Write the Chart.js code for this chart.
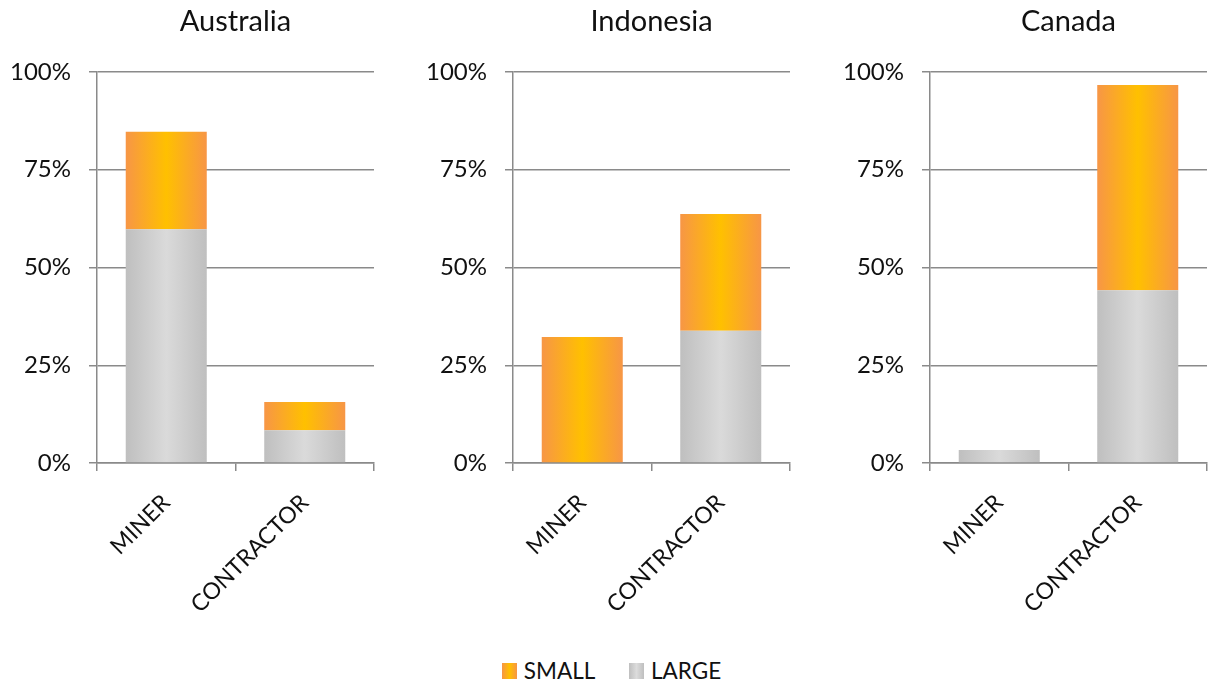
<!DOCTYPE html>
<html>
<head>
<meta charset="utf-8">
<script src="https://cdn.jsdelivr.net/npm/chart.js@4"></script>
<style>
  body { margin: 0; background: #fff; width: 1211px; height: 679px; position: relative; overflow: hidden; font-family: Lato, sans-serif; }
  .panel { position: absolute; top: 0; width: 400px; height: 630px; }
  #legend { position: absolute; top: 655px; left: 6px; width: 1211px; text-align: center; font-size: 22.5px; line-height: 23px; color: #111; }
  #legend span { display: inline-block; vertical-align: middle; }
  .sw { width: 15px; height: 16px; margin-right: 7px; }
  .item { margin: 0 14px; }
</style>
</head>
<body>
<div class="panel" style="left:0"><canvas id="c0" width="400" height="630"></canvas></div>
<div class="panel" style="left:416px"><canvas id="c1" width="400" height="630"></canvas></div>
<div class="panel" style="left:833px"><canvas id="c2" width="400" height="630"></canvas></div>
<div id="legend">
  <span class="item"><span class="sw" style="background:linear-gradient(90deg,#f79646,#ffc000,#f79646)"></span><span>SMALL</span></span>
  <span class="item"><span class="sw" style="background:linear-gradient(90deg,#bfbfbf,#dcdcdc,#bfbfbf)"></span><span>LARGE</span></span>
</div>
<script>
// data (percent)
const categories = ['MINER', 'CONTRACTOR'];
const countries = ['Australia', 'Indonesia', 'Canada'];
const largeAustralia = [59.8, 8.4];
const smallAustralia = [24.9, 7.2];
const largeIndonesia = [0, 33.8];
const smallIndonesia = [32.2, 29.9];
const largeCanada = [3.3, 44.2];
const smallCanada = [0, 52.5];
const yTicks = [0, 25, 50, 75, 100];

const largeSets = [largeAustralia, largeIndonesia, largeCanada];
const smallSets = [smallAustralia, smallIndonesia, smallCanada];

const barPct = 0.585;

// horizontal gradient across each bar, worked out from the x scale
const barGradient = (edge, mid) => (ctx) => {
    const chart = ctx.chart;
    const x = chart.scales.x;
    if (!x || ctx.dataIndex === undefined) return mid;
    const cx = x.getPixelForValue(ctx.dataIndex);
    const half = (x.width / categories.length) * barPct / 2;
    if (!isFinite(cx) || !isFinite(half) || half <= 0) return mid;
    const g = chart.ctx.createLinearGradient(cx - half, 0, cx + half, 0);
    g.addColorStop(0, edge);
    g.addColorStop(0.5, mid);
    g.addColorStop(1, edge);
    return g;
};

const gridColor = '#8a8a8a';

const makeChart = (i) => {
    new Chart(document.getElementById('c' + i), {
        type: 'bar',
        data: {
            labels: categories,
            datasets: [
                {
                    label: 'LARGE',
                    data: largeSets[i],
                    backgroundColor: barGradient('#bfbfbf', '#dadada'),
                    categoryPercentage: 1,
                    barPercentage: barPct
                },
                {
                    label: 'SMALL',
                    data: smallSets[i],
                    backgroundColor: barGradient('#f79646', '#ffc000'),
                    categoryPercentage: 1,
                    barPercentage: barPct
                }
            ]
        },
        options: {
            responsive: false,
            animation: false,
            layout: { padding: { left: 0, right: 26, top: 0, bottom: 0 } },
            plugins: {
                legend: { display: false },
                tooltip: { enabled: false },
                title: {
                    display: true,
                    text: countries[i],
                    fullSize: false,
                    color: '#111',
                    font: { family: 'Lato, sans-serif', size: 29, weight: 'normal' },
                    padding: { top: 4, bottom: 33.2 }
                }
            },
            scales: {
                x: {
                    stacked: true,
                    afterFit: (s) => { s.height = 167; },
                    grid: { offset: true, drawOnChartArea: false, drawTicks: true, tickLength: 8, color: gridColor, lineWidth: 1.5 },
                    border: { color: gridColor, width: 1.5 },
                    ticks: { color: '#111', font: { family: 'Lato, sans-serif', size: 23 }, minRotation: 45, maxRotation: 45, padding: 18 }
                },
                y: {
                    stacked: true,
                    min: 0,
                    max: 100,
                    afterFit: (s) => { s.width = 97; },
                    afterBuildTicks: (s) => { s.ticks = yTicks.map((v) => ({ value: v })); },
                    grid: { color: gridColor, lineWidth: 1.5, tickLength: 8 },
                    border: { color: gridColor, width: 1.5 },
                    ticks: { color: '#111', font: { family: 'Lato, sans-serif', size: 24 }, padding: 18, callback: (v) => v + '%' }
                }
            }
        }
    });
};

countries.forEach((c, i) => makeChart(i));
</script>
</body>
</html>
